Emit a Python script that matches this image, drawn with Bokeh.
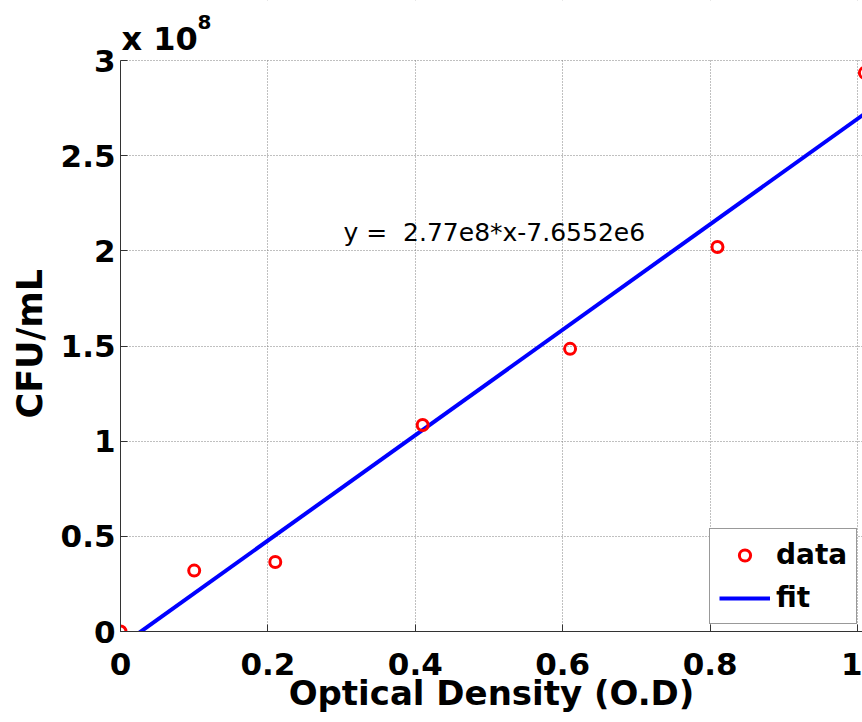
from bokeh.plotting import figure
from bokeh.models import Range1d, FixedTicker, Label, Legend, LegendItem, BoxAnnotation, Title
from bokeh.embed import file_html
from bokeh.resources import INLINE
import numpy as np

# data
od = [0.0, 0.10, 0.21, 0.41, 0.61, 0.81, 1.01]
cfu = [0.0, 0.32e8, 0.365e8, 1.085e8, 1.485e8, 2.02e8, 2.935e8]
slope = 2.77e8
intercept = -7.6552e6
x_ticks = [0, 0.2, 0.4, 0.6, 0.8, 1.0]
x_tick_labels = ["0", "0.2", "0.4", "0.6", "0.8", "1"]
y_ticks = [0, 0.5e8, 1e8, 1.5e8, 2e8, 2.5e8, 3e8]
y_tick_labels = ["0", "0.5", "1", "1.5", "2", "2.5", "3"]
y_max = 3e8

FONT = "DejaVu Sans"

# frame: x 0 -> 1 over 737 px, y 0 -> 3e8 over 571 px; frame spans 631 px high
px_per_y = 571 / y_max
p = figure(width=862, height=722, output_backend="svg", toolbar_location=None,
           x_range=Range1d(0, 1 + 5 / 737), y_range=Range1d(0, 631 / px_per_y),
           min_border_left=120, min_border_right=0, min_border_top=0, min_border_bottom=91)
p.outline_line_color = None
p.background_fill_color = "white"
p.border_fill_color = "white"

# fit line
fx = np.array([0.0, max(od)])
fy = slope * fx + intercept
fit_r = p.line(fx, fy, line_color="#0000ff", line_width=4)
data_r = p.scatter(od, cfu, marker="circle", size=11, fill_color=None,
                   line_color="#ff0000", line_width=3)

# axes
for ax in (p.xaxis[0], p.yaxis[0]):
    ax.major_tick_in = 7
    ax.major_tick_out = 0
    ax.minor_tick_line_color = None
    ax.axis_line_color = "#333333"
    ax.major_tick_line_color = "#333333"
    ax.major_label_text_font = FONT
    ax.major_label_text_font_style = "bold"
    ax.major_label_text_font_size = "31px"
    ax.major_label_text_color = "black"
    ax.axis_label_text_font = FONT
    ax.axis_label_text_font_style = "bold"
    ax.axis_label_text_font_size = "34px"
    ax.axis_label_text_color = "black"

p.yaxis[0].bounds = (0, y_max)
p.xaxis[0].ticker = FixedTicker(ticks=x_ticks)
p.xaxis[0].major_label_overrides = {t: l for t, l in zip(x_ticks, x_tick_labels)}
p.yaxis[0].ticker = FixedTicker(ticks=y_ticks)
p.yaxis[0].major_label_overrides = {t: l for t, l in zip(y_ticks, y_tick_labels)}
p.xaxis[0].axis_label = "Optical Density (O.D)"
p.xaxis[0].major_label_standoff = 21
p.xaxis[0].axis_label_standoff = -5
p.yaxis[0].major_label_standoff = 5

# y-axis title, placed along the 0..3e8 part of the frame
p.add_layout(Title(text="CFU/mL", align="left", offset=213, standoff=15,
                   text_font=FONT, text_font_style="bold", text_font_size="35px",
                   text_color="black"), "left")

# grid
for g in (p.xgrid[0], p.ygrid[0]):
    g.grid_line_color = "#808080"
    g.grid_line_dash = "1 2"
    g.grid_line_width = 1
p.xgrid[0].ticker = FixedTicker(ticks=x_ticks)
p.ygrid[0].ticker = FixedTicker(ticks=y_ticks)

# blank area above the axes box (grid stops at the top limit)
p.add_layout(BoxAnnotation(bottom=y_max * 1.0015, fill_color="white", fill_alpha=1,
                           line_color=None, level="underlay"))

# exponent label
p.add_layout(Label(x=0, y=y_max, x_offset=1, y_offset=22, text="x 10",
                   text_font=FONT, text_font_style="bold", text_font_size="32px",
                   text_color="black", text_baseline="alphabetic", text_align="left"))
p.add_layout(Label(x=0, y=y_max, x_offset=77, y_offset=39, text="8",
                   text_font=FONT, text_font_style="bold", text_font_size="20px",
                   text_color="black", text_baseline="alphabetic", text_align="left"))

# equation
p.add_layout(Label(x=0.3026, y=2.097e8, text="y = \u00a02.77e8*x-7.6552e6",
                   text_font=FONT, text_font_size="25px", text_color="black",
                   text_baseline="alphabetic", text_align="left"))

legend = Legend(items=[LegendItem(label="data", renderers=[data_r]),
                       LegendItem(label="fit", renderers=[fit_r])],
                location=(589, 7), padding=9, spacing=10, margin=0,
                glyph_width=51, glyph_height=28, label_height=28, label_standoff=6,
                label_text_font=FONT, label_text_font_style="bold",
                label_text_font_size="28px", label_text_color="black",
                border_line_color="#333333", border_line_width=1,
                background_fill_color="white", background_fill_alpha=1)
p.add_layout(legend)

open("out.html", "w").write(file_html(p, INLINE))
